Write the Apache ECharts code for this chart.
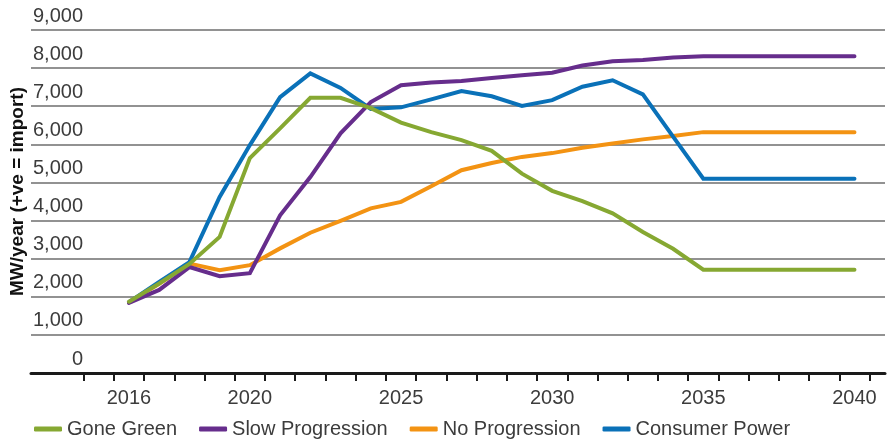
<!DOCTYPE html>
<html>
<head>
<meta charset="utf-8">
<script src="https://cdn.jsdelivr.net/npm/echarts@6/dist/echarts.min.js"></script>
<style>
  html, body { margin: 0; padding: 0; background: #fff; }
  #chart { width: 888px; height: 442px; }
</style>
</head>
<body>
<div id="chart"></div>
<script>
var years = [2016, 2017, 2018, 2019, 2020, 2021, 2022, 2023, 2024, 2025, 2026, 2027, 2028,
             2029, 2030, 2031, 2032, 2033, 2034, 2035, 2036, 2037, 2038, 2039, 2040];

var goneGreen = [1870, 2350, 2860, 3570, 5640, 6420, 7220, 7220, 6950, 6570, 6320, 6110, 5830,
                 5230, 4780, 4510, 4190, 3700, 3260, 2710, 2710, 2710, 2710, 2710, 2710];
var slowProgression = [1840, 2180, 2780, 2540, 2620, 4140, 5140, 6290, 7110, 7550, 7620, 7660, 7740,
                       7810, 7880, 8070, 8180, 8210, 8280, 8310, 8310, 8310, 8310, 8310, 8310];
var noProgression = [1860, 2340, 2870, 2700, 2830, 3270, 3680, 3990, 4320, 4490, 4900, 5320, 5510,
                     5670, 5770, 5910, 6020, 6130, 6220, 6320, 6320, 6320, 6320, 6320, 6320];
var consumerPower = [1860, 2390, 2910, 4620, 5980, 7240, 7860, 7480, 6930, 6970, 7180, 7400, 7260,
                     7010, 7160, 7510, 7680, 7310, 6200, 5100, 5100, 5100, 5100, 5100, 5100];

var tickYears = [];
for (var t = 2014.5; t <= 2040.5; t += 1) tickYears.push(t);
var labelYears = [2016, 2020, 2025, 2030, 2035, 2040];

var seriesNames = ['Gone Green', 'Slow Progression', 'No Progression', 'Consumer Power'];
var seriesColors = ['#86a832', '#662d8c', '#f39313', '#0a71b8'];
var seriesValues = [goneGreen, slowProgression, noProgression, consumerPower];
var seriesZ = [6, 5, 3, 4];

function pairs(values) {
    return years.map(function (y, i) { return [y, values[i]]; });
}

var textColor = '#3c3c3c';

var myChart = echarts.init(document.getElementById('chart'));

var option = {
    animation: false,
    grid: {
        left: 31,
        right: 3,
        top: 30,
        bottom: 69,
        outerBoundsMode: 'none'
    },
    legend: {
        data: seriesNames,
        left: 29,
        top: 414,
        icon: 'roundRect',
        itemWidth: 28,
        itemHeight: 5,
        itemGap: 22,
        textStyle: {
            color: textColor,
            fontFamily: 'Liberation Sans',
            fontSize: 20
        }
    },
    xAxis: {
        type: 'value',
        min: 2012.76,
        max: 2041.01,
        splitLine: { show: false },
        axisLine: {
            lineStyle: { color: '#1a1a1a', width: 3 }
        },
        axisTick: {
            show: true,
            customValues: tickYears,
            length: 8,
            lineStyle: { color: '#1a1a1a', width: 2 }
        },
        axisLabel: {
            customValues: labelYears,
            margin: 15,
            color: textColor,
            fontFamily: 'Liberation Sans',
            fontSize: 20,
            formatter: function (v) { return String(v); }
        }
    },
    yAxis: {
        type: 'value',
        min: 0,
        max: 9000,
        interval: 1000,
        name: 'MW/year (+ve = import)',
        nameLocation: 'middle',
        nameGap: 4,
        nameMoveOverlap: false,
        nameTextStyle: {
            color: '#111',
            fontFamily: 'Liberation Sans',
            fontWeight: 'bold',
            fontSize: 19,
            padding: [0, 0, 0, 20]
        },
        axisLine: { show: false },
        axisTick: { show: false },
        splitLine: {
            lineStyle: { color: '#6e6e6e', width: 1.5 }
        },
        axisLabel: {
            inside: true,
            margin: 52,
            align: 'right',
            verticalAlign: 'bottom',
            padding: [0, 0, 4, 0],
            color: textColor,
            fontFamily: 'Liberation Sans',
            fontSize: 20,
            formatter: function (v) { return v.toLocaleString('en-US'); }
        }
    },
    series: seriesNames.map(function (name, i) {
        return {
            name: name,
            type: 'line',
            data: pairs(seriesValues[i]),
            showSymbol: false,
            symbol: 'none',
            z: seriesZ[i],
            color: seriesColors[i],
            lineStyle: { width: 4, cap: 'round', join: 'miter' }
        };
    })
};

myChart.setOption(option);
</script>
</body>
</html>
